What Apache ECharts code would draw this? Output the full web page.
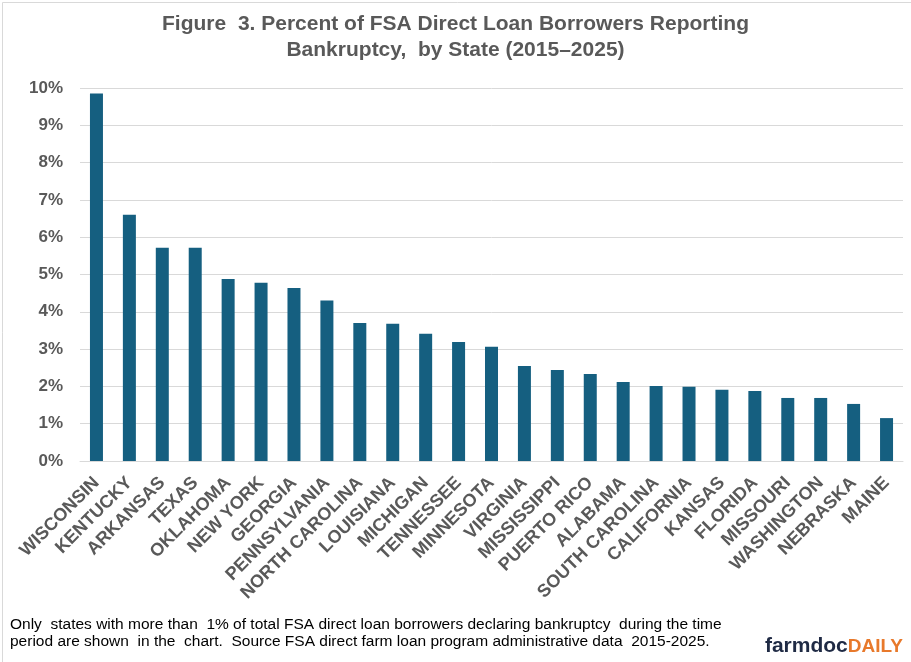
<!DOCTYPE html>
<html>
<head>
<meta charset="utf-8">
<script src="https://cdn.jsdelivr.net/npm/echarts@6/dist/echarts.min.js"></script>
<style>
html,body{margin:0;padding:0;background:#fff;}
#chart{width:911px;height:662px;}
</style>
</head>
<body>
<div id="chart"></div>
<script>
const states = ["WISCONSIN","KENTUCKY","ARKANSAS","TEXAS","OKLAHOMA","NEW YORK","GEORGIA","PENNSYLVANIA","NORTH CAROLINA","LOUISIANA","MICHIGAN","TENNESSEE","MINNESOTA","VIRGINIA","MISSISSIPPI","PUERTO RICO","ALABAMA","SOUTH CAROLINA","CALIFORNIA","KANSAS","FLORIDA","MISSOURI","WASHINGTON","NEBRASKA","MAINE"];
const bankruptcyPct = [9.85,6.60,5.72,5.72,4.88,4.78,4.64,4.30,3.70,3.68,3.41,3.19,3.06,2.55,2.44,2.33,2.12,2.01,1.99,1.91,1.88,1.69,1.69,1.53,1.15];
const yTicks = [0,1,2,3,4,5,6,7,8,9,10];

const titleLines = ["Figure  3. Percent of FSA Direct Loan Borrowers Reporting","Bankruptcy,  by State (2015\u20132025)"];
const noteLines = ["Only  states with more than  1% of total FSA direct loan borrowers declaring bankruptcy  during the time","period are shown  in the  chart.  Source FSA direct farm loan program administrative data  2015-2025."];

const chart = echarts.init(document.getElementById('chart'), null, {renderer:'canvas'});
const narrow = '"Liberation Sans Narrow","Arial Narrow","Liberation Sans",Arial,sans-serif';
chart.setOption({
  backgroundColor:'#fff',
  animation:false,
  title:{
    text: titleLines.join('\n'),
    left:'center', top:6,
    textStyle:{fontFamily:narrow,fontWeight:'bold',fontSize:21,color:'#595959',lineHeight:26}
  },
  grid:{left:80,right:8,top:88,bottom:201},
  xAxis:{
    type:'category',
    data:states,
    axisLine:{lineStyle:{color:'#d9d9d9',width:1}},
    axisTick:{show:false},
    axisLabel:{
      interval:0, rotate:45, margin:19,
      fontFamily:'"Liberation Sans",Arial,sans-serif',
      fontWeight:'bold', fontSize:18, color:'#595959'
    }
  },
  yAxis:{
    type:'value', min:yTicks[0], max:yTicks[yTicks.length-1], interval:1,
    axisLine:{show:false}, axisTick:{show:false},
    splitLine:{lineStyle:{color:'#d9d9d9',width:1}},
    axisLabel:{
      formatter: v => v + '%', margin:17,
      fontFamily:'"Liberation Sans",Arial,sans-serif',
      fontWeight:'bold', fontSize:17, color:'#595959'
    }
  },
  series:[{
    type:'bar',
    data:bankruptcyPct,
    barWidth:13,
    itemStyle:{color:'#155f80'}
  }],
  graphic:[
    {type:'rect',left:0,top:0,shape:{width:910,height:661},style:{fill:'none',stroke:'#d9d9d9',lineWidth:1},silent:true},
    {type:'text',left:10,top:616,style:{text:noteLines.join('\n'),font:'15.5px '+narrow,fill:'#000',lineHeight:17}},
    {type:'text',right:8,top:636,style:{
      text:'{a|farmdoc}{b|DAILY}',
      rich:{
        a:{fontFamily:'"Liberation Sans",Arial,sans-serif',fontWeight:'bold',fontSize:21,fill:'#1f2a44'},
        b:{fontFamily:narrow,fontWeight:'bold',fontSize:19,fill:'#e8792b'}
      }
    }}
  ]
});
</script>
</body>
</html>
